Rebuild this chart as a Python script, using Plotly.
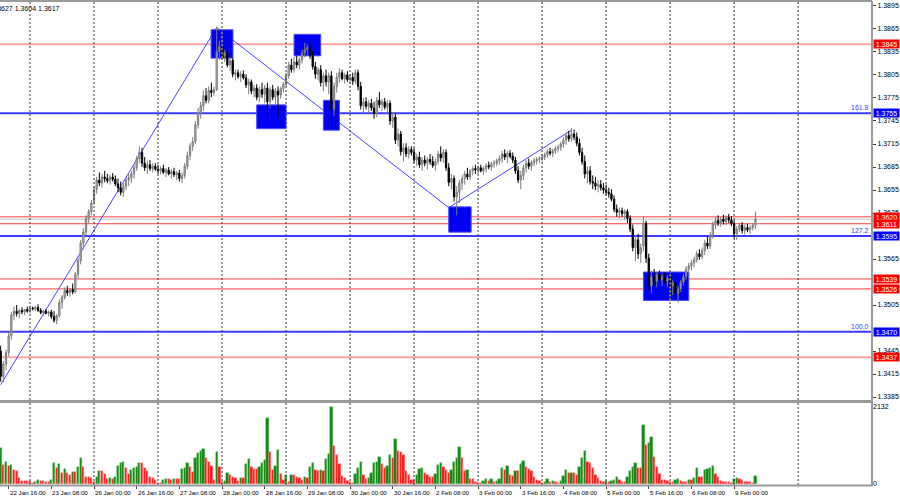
import plotly.graph_objects as go

# ---------------- DATA (prices in 1/10000 above 1.0000, i.e. 3445 -> 1.3445) ----------------
open_pips = [
    3445,3412,3428,3443,3465,3492,3497,3494,3498,3496,3499,
    3497,3501,3500,3502,3498,3495,3497,3494,3496,3490,3485,3491,3508,3515,3524,3521,3525,3522,3545,3563,3586,3600,3618,3627,
    3640,3656,3668,3664,3672,3670,3667,3672,3669,3663,3658,3652,3660,3668,3671,3676,3684,3696,3704,3690,3684,3688,3683,3686,
    3682,3680,3683,3678,3681,3676,3679,3675,3677,3670,3674,3686,3700,3712,3718,3740,3755,3765,3778,3772,3785,3782,3786,3836,
    3842,3830,3834,3818,3824,3806,3808,3803,3806,3801,3792,3796,3784,3788,3776,3786,3780,3788,3770,3786,3776,3784,3779,3787,
    3793,3804,3818,3812,3822,3818,3825,3834,3838,3841,3830,3816,3806,3812,3795,3804,3796,3804,3760,3790,3802,3808,3800,3805,
    3799,3802,3797,3808,3790,3765,3770,3764,3768,3762,3755,3772,3766,3770,3763,3768,3745,3750,3720,3728,3705,3710,3702,3708,
    3704,3694,3698,3688,3694,3690,3695,3692,3687,3692,3702,3697,3704,3684,3665,3670,3646,3652,3664,3670,3676,3672,3680,3683,
    3681,3684,3680,3683,3687,3685,3689,3690,3693,3696,3702,3698,3703,3699,3694,3680,3668,3674,3684,3690,3686,3691,3693,3695,
    3696,3698,3701,3705,3703,3706,3709,3711,3715,3720,3726,3722,3728,3724,3716,3704,3692,3676,3680,3666,3664,3660,3662,3658,
    3655,3652,3650,3643,3630,3626,3628,3624,3627,3618,3604,3580,3590,3572,3582,3612,3566,3530,3542,3536,3545,3538,3542,3536,
    3540,3530,3534,3520,3526,3535,3542,3552,3556,3560,3564,3572,3568,3576,3586,3582,3596,3610,3615,3612,3617,3614,3619,3616,
    3611,3598,3604,3609,3602,3606,3603,3606,3609,
]
high_pips = [
    3452,3432,3447,3470,3496,3503,3505,3500,3502,3500,3503,
    3504,3503,3504,3506,3501,3499,3500,3498,3499,3497,3493,3512,3518,3528,3530,3527,3533,3548,3568,3590,3605,3622,3630,3642,
    3660,3672,3678,3676,3680,3676,3675,3677,3674,3670,3666,3664,3672,3676,3680,3688,3700,3712,3710,3698,3693,3694,3690,3690,
    3688,3686,3688,3684,3685,3682,3684,3680,3681,3678,3690,3705,3716,3724,3745,3762,3770,3785,3788,3790,3795,3790,3868,3850,
    3846,3838,3838,3828,3827,3812,3812,3810,3811,3806,3800,3799,3792,3793,3790,3795,3792,3795,3790,3792,3788,3790,3790,3796,
    3808,3822,3826,3828,3830,3828,3838,3847,3845,3846,3836,3822,3815,3818,3808,3812,3808,3810,3795,3808,3814,3812,3808,3810,
    3806,3808,3812,3812,3796,3775,3776,3772,3774,3770,3776,3783,3774,3775,3772,3772,3756,3754,3735,3732,3716,3716,3712,3712,
    3710,3702,3705,3698,3700,3698,3702,3699,3696,3706,3712,3708,3708,3690,3676,3674,3660,3668,3674,3680,3684,3682,3686,3688,
    3686,3688,3686,3690,3692,3692,3694,3696,3700,3706,3708,3706,3707,3704,3698,3686,3680,3688,3694,3696,3694,3697,3698,3699,
    3702,3704,3708,3710,3709,3712,3714,3718,3724,3730,3732,3736,3734,3730,3722,3710,3700,3686,3686,3674,3672,3668,3668,3664,
    3662,3658,3656,3648,3636,3632,3632,3630,3630,3622,3610,3596,3598,3585,3620,3615,3572,3550,3552,3548,3550,3546,3548,3544,
    3544,3538,3538,3530,3538,3546,3556,3560,3564,3568,3576,3578,3580,3590,3595,3600,3614,3620,3622,3620,3623,3622,3624,3621,
    3616,3608,3612,3613,3610,3611,3609,3612,3627,
]
low_pips = [
    3405,3404,3420,3438,3460,3485,3490,3488,3493,3492,3495,
    3494,3498,3497,3496,3493,3491,3493,3490,3487,3482,3480,3489,3500,3512,3517,3516,3519,3520,3540,3558,3578,3596,3612,3622,
    3636,3650,3660,3658,3665,3664,3662,3666,3660,3652,3648,3646,3655,3660,3664,3670,3680,3690,3685,3680,3676,3680,3678,3680,
    3676,3675,3676,3672,3674,3670,3672,3668,3666,3664,3670,3682,3694,3706,3715,3735,3748,3758,3768,3768,3776,3778,3784,3825,
    3826,3822,3815,3810,3802,3798,3800,3796,3799,3788,3780,3780,3776,3772,3770,3775,3768,3750,3762,3772,3765,3752,3774,3782,
    3790,3800,3808,3808,3814,3812,3820,3828,3830,3826,3812,3800,3798,3790,3784,3790,3780,3735,3752,3782,3795,3798,3794,3796,
    3794,3792,3793,3785,3760,3755,3760,3755,3758,3748,3750,3762,3758,3760,3755,3740,3736,3715,3712,3700,3692,3698,3696,3700,
    3690,3686,3684,3680,3686,3682,3688,3684,3680,3688,3692,3690,3680,3660,3656,3640,3622,3638,3655,3662,3668,3668,3674,3676,
    3676,3678,3675,3678,3682,3680,3684,3686,3688,3690,3694,3690,3696,3690,3676,3664,3656,3668,3678,3682,3680,3686,3688,3690,
    3692,3694,3697,3700,3698,3702,3704,3706,3710,3714,3718,3718,3720,3712,3700,3688,3670,3664,3662,3656,3655,3652,3654,3650,
    3648,3645,3640,3626,3620,3618,3620,3616,3612,3600,3575,3562,3565,3560,3575,3560,3525,3520,3530,3528,3534,3530,3532,3528,
    3526,3518,3512,3508,3522,3530,3538,3546,3550,3554,3560,3564,3565,3570,3578,3578,3592,3604,3608,3607,3610,3609,3612,3608,
    3592,3590,3600,3598,3597,3600,3598,3602,3604,
]
close_pips = [
    3412,3428,3443,3465,3492,3497,3494,3498,3496,3499,3497,
    3501,3500,3502,3498,3495,3497,3494,3496,3490,3485,3491,3508,3515,3524,3521,3525,3522,3545,3563,3586,3600,3618,3627,3638,
    3656,3668,3664,3672,3670,3667,3672,3669,3663,3658,3652,3660,3668,3671,3676,3684,3696,3704,3690,3684,3688,3683,3686,3682,
    3680,3683,3678,3681,3676,3679,3675,3677,3670,3674,3686,3700,3712,3718,3740,3755,3765,3778,3772,3785,3782,3786,3836,3842,
    3830,3834,3818,3824,3806,3808,3803,3806,3801,3792,3796,3784,3788,3776,3786,3780,3788,3770,3786,3776,3784,3779,3787,3793,
    3804,3818,3812,3822,3818,3825,3834,3838,3841,3830,3816,3806,3812,3795,3804,3796,3804,3760,3790,3802,3808,3800,3805,3799,
    3802,3797,3808,3790,3765,3770,3764,3768,3762,3755,3772,3766,3770,3763,3768,3745,3750,3720,3728,3705,3710,3702,3708,3704,
    3694,3698,3688,3694,3690,3695,3692,3687,3692,3702,3697,3704,3684,3665,3670,3646,3652,3664,3670,3676,3672,3680,3683,3681,
    3684,3680,3683,3687,3685,3689,3690,3693,3696,3702,3698,3703,3699,3694,3680,3668,3674,3684,3690,3686,3691,3693,3695,3696,
    3698,3701,3705,3703,3706,3709,3711,3715,3720,3726,3722,3728,3724,3716,3704,3692,3676,3680,3666,3664,3660,3662,3658,3655,
    3652,3650,3643,3630,3626,3628,3624,3627,3618,3604,3580,3590,3572,3580,3612,3566,3530,3542,3536,3545,3538,3542,3536,3540,
    3530,3534,3520,3526,3535,3542,3552,3556,3560,3564,3572,3568,3576,3586,3582,3596,3610,3615,3612,3617,3614,3619,3616,3611,
    3598,3604,3609,3602,3606,3603,3606,3609,3617,
]
volume = [
    984,524,598,506,524,386,359,175,83,83,83,
    83,20,55,110,92,83,55,55,110,570,451,552,313,405,313,248,340,340,478,718,478,202,202,156,
    64,184,368,368,276,138,156,138,184,497,570,598,432,267,386,432,478,570,570,432,359,184,156,110,
    37,37,110,129,129,110,129,129,129,405,432,570,478,340,708,846,920,957,708,598,497,110,874,478,
    64,83,294,248,202,156,83,156,156,552,681,478,414,414,478,570,662,1812,874,386,497,938,276,110,
    248,64,248,248,202,156,110,184,156,478,589,386,368,386,359,681,819,2132,1058,800,543,221,156,92,
    64,37,276,432,616,248,138,175,294,570,616,736,543,432,497,800,708,1233,911,874,800,359,248,110,
    110,248,405,432,313,248,184,184,276,524,570,478,386,313,386,607,708,1012,708,359,386,138,138,46,
    37,37,92,129,83,147,64,83,129,432,386,497,248,230,368,368,543,635,460,405,359,184,110,83,
    37,64,138,64,83,64,37,83,221,386,294,313,294,248,478,708,920,616,570,432,248,156,83,64,
    92,64,92,110,202,110,64,64,202,368,478,589,451,451,1628,1076,1141,1306,736,478,276,110,110,83,
    64,64,110,129,83,64,64,110,110,175,432,202,184,386,405,432,497,276,184,92,64,64,64,37,
    129,156,129,110,64,64,64,37,221,
]
assert len(open_pips) == len(high_pips) == len(low_pips) == len(close_pips) == len(volume)

# time labels (bar index of tick, text)
label_bars = [3, 19, 35, 51, 67, 83, 99, 115, 131, 147, 163, 179, 195, 211, 227, 243, 259, 275]
label_texts = ["22 Jan 16:00", "23 Jan 08:00", "26 Jan 00:00", "26 Jan 16:00", "27 Jan 08:00",
               "28 Jan 00:00", "28 Jan 16:00", "29 Jan 08:00", "30 Jan 00:00", "30 Jan 16:00",
               "2 Feb 08:00", "3 Feb 00:00", "3 Feb 16:00", "4 Feb 08:00", "5 Feb 00:00",
               "5 Feb 16:00", "6 Feb 08:00", "9 Feb 00:00"]
day_start_bars = [11, 35, 59, 83, 107, 131, 155, 179, 203, 227, 251, 275, 299]

price_ticks = [1.3895, 1.3865, 1.3835, 1.3805, 1.3775, 1.3745, 1.3715, 1.3685, 1.3655,
               1.3625, 1.3565, 1.3505, 1.3445, 1.3415, 1.3385]

# horizontal levels
red_levels = [1.3620, 1.3611, 1.3539, 1.3526]
pink_levels = [1.3845, 1.3437]
fib_levels = [1.3755, 1.3595, 1.3470]
fib_texts = ["161.8", "127.2", "100.0"]
bid_price = 1.3617
vol_max_label = 2132

# zig-zag pattern points (bar index, price)
zz_bars = [0, 81, 168, 214]
zz_prices = [1.3401, 1.3867, 1.3632, 1.3733]

# blue zones (bar from, bar to, price low, price high)
zone_bar0 = [78.9, 110.0, 96.0, 121.0, 168.0, 241.0]
zone_bar1 = [87.1, 120.0, 107.0, 127.0, 176.4, 258.0]
zone_low = [1.3827, 1.3830, 1.3735, 1.3733, 1.3600, 1.3511]
zone_high = [1.3864, 1.3858, 1.3766, 1.3772, 1.3633, 1.3548]

header_text = "1.3609 1.3627 1.3604 1.3617"

# ---------------- FIGURE ----------------
o = [1 + v / 10000 for v in open_pips]
h = [1 + v / 10000 for v in high_pips]
l = [1 + v / 10000 for v in low_pips]
c = [1 + v / 10000 for v in close_pips]
bars = list(range(len(o)))

FONT = "Liberation Sans, Arial, sans-serif"
FS = 7
FSX = 6.2
PRICE_RANGE = [1.33811, 1.39015]
VOL_RANGE = [-28, 2234]

vol_colors, vol_lines = [], []
for i, v in enumerate(volume):
    up = i == 0 or v > volume[i - 1]
    vol_colors.append("#0b870b" if up else "#ff1414")
    vol_lines.append("#72c472" if up else "#ff8c8c")

fig = go.Figure()

# day separators as traces (dotted), one per panel
gx, gy, gy2 = [], [], []
for b in day_start_bars:
    gx += [b, b, None]
    gy += [PRICE_RANGE[0], PRICE_RANGE[1], None]
    gy2 += [VOL_RANGE[0], VOL_RANGE[1], None]
fig.add_trace(go.Scatter(x=gx, y=gy, mode="lines", xaxis="x", yaxis="y", hoverinfo="skip",
                         line=dict(color="#303030", width=1, dash="2px,2px")))
fig.add_trace(go.Scatter(x=gx, y=gy2, mode="lines", xaxis="x", yaxis="y2", hoverinfo="skip",
                         line=dict(color="#303030", width=1, dash="2px,2px")))
# separators crossing a zone show up yellow
yx, yy = [], []
for x0, x1, y0, y1 in zip(zone_bar0, zone_bar1, zone_low, zone_high):
    for b in day_start_bars:
        if x0 < b < x1:
            yx += [b, b, None]
            yy += [y0, y1, None]
fig.add_trace(go.Scatter(x=yx, y=yy, mode="lines", xaxis="x", yaxis="y", hoverinfo="skip",
                         line=dict(color="#ffff00", width=1, dash="2px,2px")))

fig.add_trace(go.Candlestick(
    x=bars, open=o, high=h, low=l, close=c,
    increasing=dict(line=dict(color="#7c7c7c", width=1), fillcolor="#bdbdbd"),
    decreasing=dict(line=dict(color="#000000", width=1), fillcolor="#000000"),
    xaxis="x", yaxis="y", hoverinfo="skip"))
fig.add_trace(go.Bar(
    x=bars, y=volume, marker=dict(color=vol_colors, line=dict(color=vol_lines, width=0.5)),
    width=0.85, xaxis="x", yaxis="y2", hoverinfo="skip"))

shapes = []
# levels
for p in pink_levels:
    shapes.append(dict(type="line", xref="paper", yref="y", x0=0, x1=1, y0=p, y1=p,
                       line=dict(color="#ffa3a3", width=2), layer="below"))
shapes.append(dict(type="line", xref="paper", yref="y", x0=0, x1=1, y0=bid_price, y1=bid_price,
                   line=dict(color="#c0c0c0", width=1), layer="below"))
for p in red_levels:
    shapes.append(dict(type="line", xref="paper", yref="y", x0=0, x1=1, y0=p, y1=p,
                       line=dict(color="#ff4040", width=1), layer="below"))
for p in fib_levels:
    shapes.append(dict(type="line", xref="paper", yref="y", x0=0, x1=1, y0=p, y1=p,
                       line=dict(color="#3c3cff", width=2), layer="below"))
# zig-zag
for i in range(len(zz_bars) - 1):
    shapes.append(dict(type="line", xref="x", yref="y", x0=zz_bars[i], x1=zz_bars[i + 1],
                       y0=zz_prices[i], y1=zz_prices[i + 1],
                       line=dict(color="#4646ff", width=1), layer="below"))
# zones
for x0, x1, y0, y1 in zip(zone_bar0, zone_bar1, zone_low, zone_high):
    shapes.append(dict(type="rect", xref="x", yref="y", x0=x0, x1=x1, y0=y0, y1=y1,
                       fillcolor="#0000f2", line=dict(color="#4a4aff", width=1), layer="below"))
# frame
shapes.append(dict(type="line", xref="paper", yref="paper", x0=0, x1=1, y0=1, y1=1,
                   line=dict(color="#9a9a9a", width=2)))
shapes.append(dict(type="rect", xref="paper", yref="paper", x0=0, x1=1, y0=0.1711, y1=0.1773,
                   fillcolor="#9a9a9a", line=dict(width=0)))
shapes.append(dict(type="line", xref="paper", yref="paper", x0=0, x1=1, y0=0.001, y1=0.001,
                   line=dict(color="#9a9a9a", width=2)))
shapes.append(dict(type="line", xref="paper", yref="paper", x0=1, x1=1, y0=0, y1=1,
                   line=dict(color="#9a9a9a", width=2)))

ann = []
label_specs = [(pink_levels[0], "#ff0000"), (fib_levels[0], "#0000ff"), (red_levels[0], "#ff0000"),
               (red_levels[1], "#ff0000"), (fib_levels[1], "#0000ff"), (red_levels[2], "#ff0000"),
               (red_levels[3], "#ff0000"), (fib_levels[2], "#0000ff"), (pink_levels[1], "#ff0000")]
for p, col in label_specs:
    ann.append(dict(x=1, xref="paper", y=p, yref="y", xanchor="left", yanchor="middle", xshift=1,
                    text=f"{p:.4f}", showarrow=False, bgcolor=col, width=25, height=8, borderpad=0,
                    font=dict(family=FONT, size=FS, color="white")))
for p, t in zip(fib_levels, fib_texts):
    ann.append(dict(x=1, xref="paper", y=p, yref="y", xanchor="right", yanchor="bottom", xshift=-1,
                    text=t, showarrow=False, font=dict(family=FONT, size=FS, color="#3c3cff")))
for b, t in zip(label_bars, label_texts):
    ann.append(dict(x=b, xref="x", y=-0.0125, yref="paper", xanchor="left", yanchor="middle",
                    xshift=-1, text=t, showarrow=False, font=dict(family=FONT, size=FSX, color="black")))
ann.append(dict(x=62 / 872, xref="paper", y=1, yref="paper", xanchor="right", yanchor="top", yshift=-2,
                text=header_text, showarrow=False, font=dict(family=FONT, size=FS, color="black")))

fig.update_layout(
    template="none",
    width=900, height=500,
    margin=dict(l=0, r=28, t=1, b=14, pad=0, autoexpand=False),
    paper_bgcolor="white", plot_bgcolor="white",
    showlegend=False,
    shapes=shapes, annotations=ann,
    xaxis=dict(domain=[0, 1], range=[-0.25, 326.7], anchor="y2", showgrid=False, zeroline=False,
               showline=False, rangeslider=dict(visible=False), showticklabels=False,
               tickvals=label_bars, ticks="outside", ticklen=3, tickcolor="#404040"),
    yaxis=dict(domain=[0.1773, 1], range=PRICE_RANGE, side="right", anchor="x",
               tickvals=price_ticks, ticktext=[f"{p:.4f}" for p in price_ticks],
               showgrid=False, zeroline=False, showline=False, ticks="outside", ticklen=3,
               tickcolor="#404040", tickfont=dict(family=FONT, size=FS, color="black")),
    yaxis2=dict(domain=[0.002, 0.1711], range=VOL_RANGE, side="right", anchor="x",
                tickvals=[0, vol_max_label], ticktext=["0", str(vol_max_label)],
                showgrid=False, zeroline=False, showline=False, ticks="",
                tickfont=dict(family=FONT, size=FS, color="black")),
    bargap=0,
)
fig.write_html("out.html", config={"displayModeBar": False},
               post_script="document.body.style.margin='0px';document.body.style.overflow='hidden';")
